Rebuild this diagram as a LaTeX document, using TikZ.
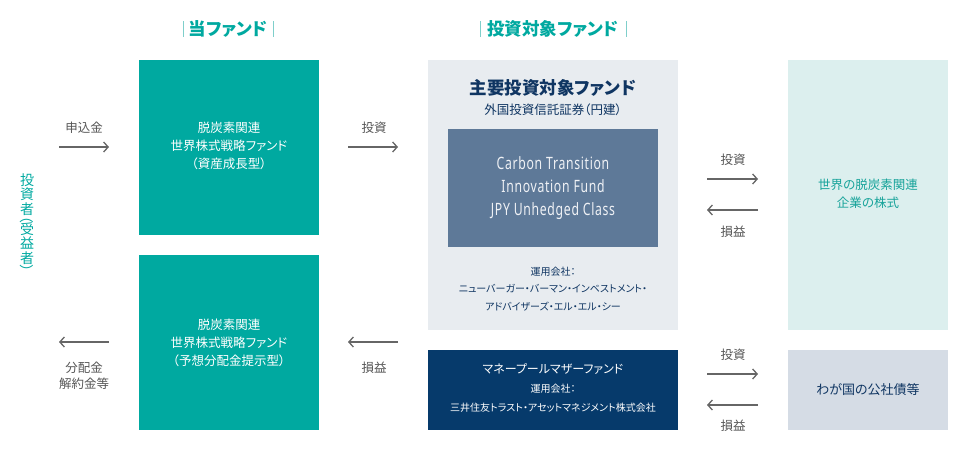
\documentclass[tikz,border=0pt]{standalone}
\usepackage{fontspec}
\usepackage{graphicx}
\setmainfont{Noto Sans CJK JP}[RawFeature=+palt]
\newfontfamily\plainjp{Noto Sans CJK JP}
\newfontfamily\condfont{Noto Sans}[FakeStretch=0.72,LetterSpace=4]
\usetikzlibrary{arrows.meta}
\definecolor{teal1}{HTML}{00A9A0}
\definecolor{hdrbar}{HTML}{7FCFCB}
\definecolor{lgray}{HTML}{E8ECF0}
\definecolor{slate}{HTML}{5E7998}
\definecolor{navy}{HTML}{063A6B}
\definecolor{navytxt}{HTML}{0F3562}
\definecolor{lteal}{HTML}{DCEFEE}
\definecolor{lslate}{HTML}{D5DCE5}
\definecolor{arrgray}{HTML}{666666}
\definecolor{lblgray}{HTML}{555555}
\definecolor{tealtxt}{HTML}{17A39A}
\newcommand{\vparen}[1]{\rotatebox[origin=c]{-90}{\plainjp #1}}
\tikzset{
  box/.style={draw=none, inner sep=0pt, anchor=north west},
  flow/.style={draw=arrgray, line width=1.3pt, -{Straight Barb[length=4.5pt,width=10pt,line width=1.3pt]}},
  lbl/.style={text=lblgray, font=\fontsize{12.5}{16}\selectfont, align=center, inner sep=0pt},
  hdr/.style={text=teal1, font=\bfseries\fontsize{17.5}{18}\selectfont, inner sep=0pt},
  hbar/.style={draw=hdrbar, line width=1pt},
  wtxt/.style={text=white, font=\fontsize{12.5}{18}\selectfont, align=center, inner sep=0pt},
}
\begin{document}
\begin{tikzpicture}[x=1pt,y=-1pt]
\useasboundingbox (0,0) rectangle (971,450);
% headers
\node[hdr] (h1) at (228,29) {当ファンド};
\draw[hbar] (183,21) -- (183,37);
\draw[hbar] (273,21) -- (273,37);
\node[hdr] (h2) at (553,29) {投資対象ファンド};
\draw[hbar] (480,21) -- (480,37);
\draw[hbar] (626,21) -- (626,37);
% investor vertical
\node[text=teal1, font=\fontsize{14}{14.5}\selectfont, align=center, inner sep=0pt] (inv) at (27,226)
  {投\\資\\者\\[-7pt]\vparen{（}\\[-2pt]受\\益\\者\\[-1pt]\vparen{）}};
% boxes
\node[box, fill=teal1, minimum width=180pt, minimum height=175pt] (fa) at (139,60) {};
\node[wtxt] (fat) at (229,146) {脱炭素関連\\世界株式戦略ファンド\\（資産成長型）};
\node[box, fill=teal1, minimum width=180pt, minimum height=175pt] (fb) at (139,255) {};
\node[wtxt] (fbt) at (229,343) {脱炭素関連\\世界株式戦略ファンド\\（予想分配金提示型）};
\node[box, fill=lgray, minimum width=250pt, minimum height=270pt] (main) at (428,60) {};
\node[text=navytxt, font=\bfseries\fontsize{17.5}{20}\selectfont, inner sep=0pt] (mt1) at (553,88) {主要投資対象ファンド};
\node[text=navytxt, font=\fontsize{12.5}{14}\selectfont, inner sep=0pt] (mt2) at (553,110) {外国投資信託証券（円建）};
\node[box, fill=slate, minimum width=210pt, minimum height=118pt] (inner) at (448,129) {};
\node[text=white!90!slate, font=\condfont\fontsize{17}{23}\selectfont, align=center, inner sep=0pt] (innt) at (553,188)
  {Carbon Transition\\Innovation Fund\\JPY Unhedged Class};
\node[text=navytxt, font=\fontsize{10}{17.5}\selectfont, align=center, inner sep=0pt] (mgr) at (553,289)
  {運用会社：\\ニューバーガー・バーマン・インベストメント・\\アドバイザーズ・エル・エル・シー};
\node[box, fill=navy, minimum width=250pt, minimum height=80pt] (mp) at (428,350) {};
\node[text=white, font=\fontsize{12}{14}\selectfont, inner sep=0pt] (mpt1) at (553,369) {マネープールマザーファンド};
\node[text=white, font=\fontsize{10}{19}\selectfont, align=center, inner sep=0pt] (mpt2) at (553,398.5)
  {運用会社：\\三井住友トラスト・アセットマネジメント株式会社};
\node[box, fill=lteal, minimum width=160pt, minimum height=270pt] (stk) at (788,60) {};
\node[text=tealtxt, font=\fontsize{12.5}{18}\selectfont, align=center, inner sep=0pt] (stkt) at (868,194)
  {世界の脱炭素関連\\企業の株式};
\node[box, fill=lslate, minimum width=160pt, minimum height=80pt] (bd) at (788,350) {};
\node[text=navytxt, font=\fontsize{13}{14}\selectfont, inner sep=0pt] (bdt) at (868,390) {わが国の公社債等};
% arrow coordinates
\coordinate (a1s) at (59,147); \coordinate (a1e) at (109,147);
\coordinate (a2s) at (348,147); \coordinate (a2e) at (398,147);
\coordinate (a3s) at (109,342); \coordinate (a3e) at (59,342);
\coordinate (a4s) at (398,342); \coordinate (a4e) at (348,342);
\coordinate (a5s) at (707,179); \coordinate (a5e) at (758,179);
\coordinate (a6s) at (758,210); \coordinate (a6e) at (707,210);
\coordinate (a7s) at (707,374); \coordinate (a7e) at (758,374);
\coordinate (a8s) at (758,405); \coordinate (a8e) at (707,405);
\draw[flow] (a1s) -- (a1e);
\draw[flow] (a2s) -- (a2e);
\draw[flow] (a3s) -- (a3e);
\draw[flow] (a4s) -- (a4e);
\draw[flow] (a5s) -- (a5e);
\draw[flow] (a6s) -- (a6e);
\draw[flow] (a7s) -- (a7e);
\draw[flow] (a8s) -- (a8e);
% labels
\node[lbl] (l1) at (84,128) {申込金};
\node[lbl] (l2) at (374,128) {投資};
\node[lbl] (l3) at (84,376) {分配金\\解約金等};
\node[lbl] (l4) at (374,368) {損益};
\node[lbl] (l5) at (733,160) {投資};
\node[lbl] (l6) at (733,232) {損益};
\node[lbl] (l7) at (733,355) {投資};
\node[lbl] (l8) at (733,426) {損益};
\end{tikzpicture}
\end{document}
